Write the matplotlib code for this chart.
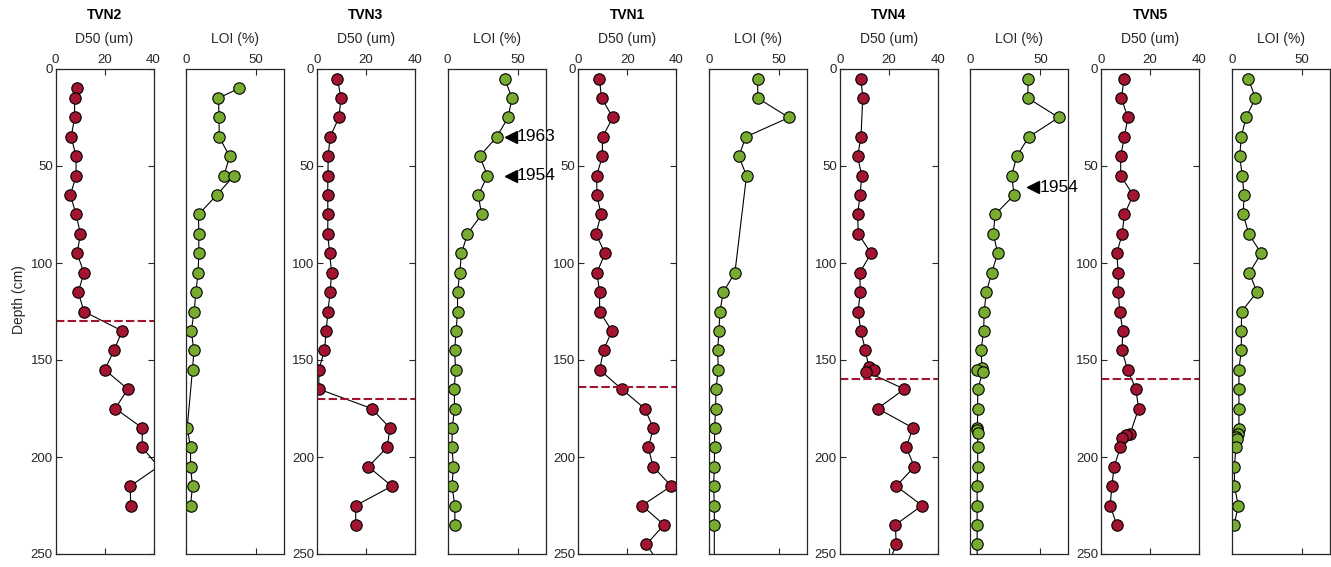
import matplotlib.pyplot as plt

plt.rcParams['font.family'] = ['Liberation Sans', 'DejaVu Sans']

red = '#A2142F'
green = '#77AC30'

cores = ['TVN2', 'TVN3', 'TVN1', 'TVN4', 'TVN5']

# TVN2
d50_depth_tvn2 = [10, 15, 25, 35, 45, 55, 65, 75, 85, 95, 105, 115, 125, 135, 145,
                  155, 165, 175, 185, 195, 205, 215, 225]
d50_tvn2 = [8.8, 7.8, 7.8, 6.4, 8.4, 8.4, 6.1, 8.4, 10.2, 8.8, 11.6, 9.3, 11.6, 27.2,
            23.9, 20.1, 29.5, 24.4, 35.4, 35.4, 42.0, 30.5, 30.7]
loi_depth_tvn2 = [10, 15, 25, 35, 45, 55, 55, 65, 75, 85, 95, 105, 115, 125, 135, 145,
                  155, 185, 195, 205, 215, 225]
loi_tvn2 = [37.7, 23.0, 23.5, 23.5, 31.0, 27.0, 34.1, 21.8, 8.8, 9.0, 9.0, 8.5, 6.9,
            5.7, 3.6, 5.5, 4.5, 0.7, 3.1, 3.1, 4.5, 3.1]

# TVN3
d50_depth_tvn3 = [5, 15, 25, 35, 45, 55, 65, 75, 85, 95, 105, 115, 125, 135, 145, 155,
                  165, 175, 185, 195, 205, 215, 225, 235]
d50_tvn3 = [8.4, 9.8, 9.0, 5.4, 4.6, 4.5, 4.4, 4.5, 4.4, 5.2, 6.0, 5.4, 4.5, 3.8, 3.1,
            0.8, 0.8, 22.3, 29.8, 28.7, 21.0, 30.6, 15.9, 15.8]
loi_depth_tvn3 = [5, 15, 25, 35, 45, 55, 65, 75, 85, 95, 105, 115, 125, 135, 145, 155,
                  165, 175, 185, 195, 205, 215, 225, 235]
loi_tvn3 = [40.8, 46.0, 43.2, 35.1, 22.9, 28.5, 21.9, 24.3, 14.2, 9.9, 8.7, 7.1, 7.1,
            6.1, 5.0, 5.7, 4.7, 5.0, 3.3, 3.1, 4.2, 3.1, 5.2, 5.2]

# TVN1
d50_depth_tvn1 = [5, 15, 25, 35, 45, 55, 65, 75, 85, 95, 105, 115, 125, 135, 145, 155,
                  165, 175, 185, 195, 205, 215, 225, 235, 245, 255]
d50_tvn1 = [8.6, 9.5, 14.1, 9.9, 9.8, 7.5, 7.6, 9.3, 7.2, 10.9, 7.6, 8.7, 8.7, 13.7,
            10.3, 8.7, 17.7, 27.1, 30.6, 28.6, 30.5, 38.0, 26.0, 35.0, 27.8, 33.0]
loi_depth_tvn1 = [5, 15, 25, 35, 45, 55, 105, 115, 125, 135, 145, 155, 165, 175, 185,
                  195, 205, 215, 225, 235, 255]
loi_tvn1 = [34.8, 34.8, 57.1, 26.3, 21.3, 26.8, 18.5, 10.2, 7.8, 7.1, 6.2, 6.6, 5.0,
            4.7, 4.0, 4.0, 3.8, 3.3, 3.8, 3.8, 3.8]

# TVN4
d50_depth_tvn4 = [5, 15, 35, 45, 55, 65, 75, 85, 95, 105, 115, 125, 135, 145, 153.5,
                  155, 156, 165, 175, 185, 195, 205, 215, 225, 235, 245, 255]
d50_tvn4 = [8.7, 9.4, 8.7, 7.3, 9.0, 8.3, 7.3, 7.6, 12.8, 8.2, 8.4, 7.5, 8.6, 10.5,
            11.8, 14.1, 10.9, 26.4, 15.5, 29.9, 27.1, 30.5, 23.1, 33.6, 22.7, 23.1, 20.0]
loi_depth_tvn4 = [5, 15, 25, 35, 45, 55, 65, 75, 85, 95, 105, 115, 125, 135, 145, 154,
                  155, 156, 165, 175, 185, 186, 187.5, 195, 205, 215, 225, 235, 245, 255]
loi_tvn4 = [41.2, 41.0, 63.1, 41.7, 33.1, 29.5, 31.2, 17.6, 16.4, 19.5, 15.2, 11.4,
            9.8, 9.5, 7.6, 8.3, 4.5, 9.0, 5.2, 5.2, 5.0, 5.0, 5.2, 5.2, 5.2, 4.8, 4.8,
            4.8, 4.8, 4.8]

# TVN5
d50_depth_tvn5 = [5, 15, 25, 35, 45, 55, 65, 75, 85, 95, 105, 115, 125, 135, 145, 155,
                  165, 175, 188, 188.5, 190, 195, 205, 215, 225, 235]
d50_tvn5 = [9.4, 8.3, 10.9, 9.5, 8.0, 8.0, 13.1, 9.5, 8.6, 6.4, 7.0, 7.0, 7.6, 8.9,
            8.5, 10.8, 14.2, 15.3, 11.9, 10.0, 8.5, 7.9, 5.3, 4.4, 3.7, 6.4]
loi_depth_tvn5 = [5, 15, 25, 35, 45, 55, 65, 75, 85, 95, 105, 115, 125, 135, 145, 155,
                  165, 175, 185.5, 188, 189.5, 190.5, 195, 205, 215, 225, 235]
loi_tvn5 = [11.8, 16.9, 10.1, 6.8, 5.6, 7.5, 8.7, 8.2, 12.1, 21.0, 12.6, 17.9, 7.0,
            6.8, 6.8, 5.1, 5.1, 5.1, 5.1, 4.2, 3.1, 3.9, 2.9, 1.9, 1.9, 4.6, 1.7]

# dashed boundary depth per core
boundary = [130, 170, 164, 160, 160]

# dated horizons (core index, depth, year)
date_core = [1, 1, 3]
date_depth = [35, 55, 61]
date_year = ['1963', '1954', '1954']

d50_depth = [d50_depth_tvn2, d50_depth_tvn3, d50_depth_tvn1, d50_depth_tvn4, d50_depth_tvn5]
d50_vals = [d50_tvn2, d50_tvn3, d50_tvn1, d50_tvn4, d50_tvn5]
loi_depth = [loi_depth_tvn2, loi_depth_tvn3, loi_depth_tvn1, loi_depth_tvn4, loi_depth_tvn5]
loi_vals = [loi_tvn2, loi_tvn3, loi_tvn1, loi_tvn4, loi_tvn5]

W, H = 1331, 567
fig = plt.figure(figsize=(W / 100, H / 100), dpi=100)

tick_color = '#262626'


def style(ax, xlim, xticks, show_y):
    ax.set_ylim(250, 0)
    ax.set_xlim(*xlim)
    ax.set_xticks(xticks)
    ax.set_yticks(range(0, 251, 50))
    ax.xaxis.tick_top()
    ax.xaxis.set_label_position('top')
    ax.tick_params(axis='both', direction='in', length=4, width=0.8,
                   labelsize=9.5, labelcolor=tick_color, color='#262626',
                   top=True, bottom=True, left=show_y, right=show_y,
                   labelleft=show_y, pad=2)
    for s in ax.spines.values():
        s.set_linewidth(0.9)
        s.set_color('#262626')


def profile(ax, x, y, face, xmax):
    # line through all samples, markers only where the sample lies inside the axes
    ax.plot(x, y, '-', color='black', lw=0.8)
    inside = [(a, b) for a, b in zip(x, y) if 0 <= a <= xmax and 0 <= b <= 250]
    ax.plot([a for a, b in inside], [b for a, b in inside], 'o', linestyle='none',
            markerfacecolor=face, markeredgecolor='black', markeredgewidth=0.8,
            markersize=8.2)


for i, core in enumerate(cores):
    l1 = (55.5 + 2 * i * 130.7) / W
    l2 = (55.5 + (2 * i + 1) * 130.7) / W
    bottom = 13 / H
    height = 485 / H
    w = 98 / W

    ax1 = fig.add_axes([l1, bottom, w, height])
    profile(ax1, d50_vals[i], d50_depth[i], red, 40)
    ax1.axhline(boundary[i], color=red, lw=1.5, dashes=(4, 1.6))
    style(ax1, (0, 40), [0, 20, 40], True)
    ax1.set_xlabel('D50 (um)', fontsize=10, color=tick_color, labelpad=8)
    ax1.set_title(core, fontsize=10, fontweight='bold', pad=36)
    if i == 0:
        ax1.set_ylabel('Depth (cm)', fontsize=10, color=tick_color)
        ax1.yaxis.set_label_coords(-0.30, 0.524)

    ax2 = fig.add_axes([l2, bottom, w, height])
    profile(ax2, loi_vals[i], loi_depth[i], green, 70)
    style(ax2, (0, 70), [0, 50], False)
    ax2.set_xlabel('LOI (%)', fontsize=10, color=tick_color, labelpad=8)

    for c, d, y in zip(date_core, date_depth, date_year):
        if c == i:
            ax2.plot(45, d, marker='<', color='black', markersize=9, clip_on=False)
            ax2.text(49.5, d, y, fontsize=12.5, va='center', ha='left', clip_on=False)

fig.savefig('out.png', dpi=100)
